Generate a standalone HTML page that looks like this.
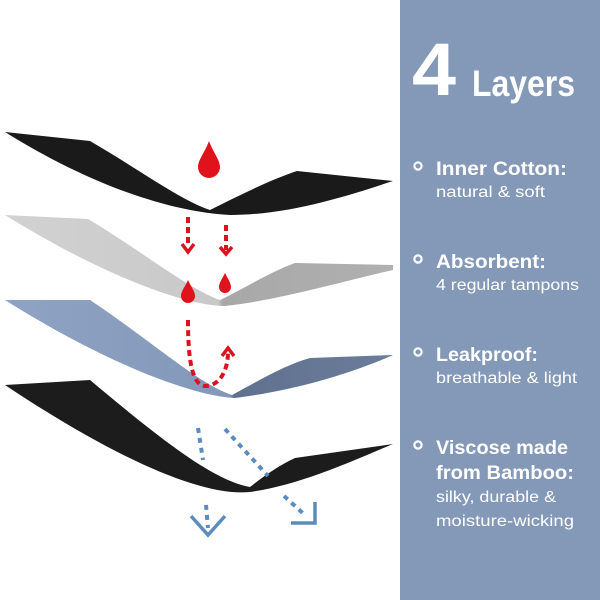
<!DOCTYPE html>
<html><head><meta charset="utf-8"><style>
html,body{margin:0;padding:0;background:#fff;}
svg{display:block}
text{font-family:"Liberation Sans",sans-serif;fill:#fff}
</style></head><body>
<svg width="600" height="600" viewBox="0 0 600 600" xmlns="http://www.w3.org/2000/svg">
<rect x="0" y="0" width="600" height="600" fill="#fff"/>
<rect x="400" y="0" width="200" height="600" fill="#8399b7"/>
<defs>
<linearGradient id="g2" x1="0" x2="1"><stop offset="0" stop-color="#d2d2d2"/><stop offset="0.55" stop-color="#c8c8c8"/><stop offset="0.56" stop-color="#a8a8a8"/><stop offset="1" stop-color="#b0b0b0"/></linearGradient>
<linearGradient id="g3" x1="0" x2="1"><stop offset="0" stop-color="#8fa3c4"/><stop offset="0.58" stop-color="#8397b9"/><stop offset="0.59" stop-color="#5f718f"/><stop offset="1" stop-color="#6b7d9b"/></linearGradient>
</defs>
<path d="M5,132 L90,141 C140,170 180,200 210,210 C240,195 270,180 297,171 L393,181 C350,195 290,215 230,215 C170,212 90,185 5,132 Z" fill="#1a1a1a"/>
<path d="M5,215 L88,219 C140,250 190,290 220,300 C245,288 270,272 295,263 L393,265 L393,270 C340,282 280,300 225,306 C190,306 110,280 5,215 Z" fill="url(#g2)"/>
<path d="M5,300 L90,300 C150,340 200,385 232,395 C260,380 285,365 310,358 L393,355 C360,370 300,390 235,398 C190,396 100,360 5,300 Z" fill="url(#g3)"/>
<path d="M5,385 L90,380 C150,430 210,480 250,487 C265,475 280,465 295,458 L393,444 C350,462 300,485 250,492 C200,497 110,455 5,385 Z" fill="#1c1c1c"/>
<g fill="#e0121c">
<path d="M209,141 C213,152 220,160 220,167 A11,11 0 0 1 198,167 C198,160 205,152 209,141 Z"/>
<path d="M188,280 C191,287 195,291 195,296 A7,7 0 0 1 181,296 C181,291 185,287 188,280 Z"/>
<path d="M225,273 C228,279 231,283 231,287 A6,6 0 0 1 219,287 C219,283 222,279 225,273 Z"/>
</g>
<g stroke="#d9141e" stroke-width="4" fill="none" stroke-dasharray="6,4">
<path d="M188,217 L188,245"/>
<path d="M226,225 L226,250"/>
<path d="M188,320 C188,360 192,385 205,386 C220,386 228,370 228,352"/>
</g>
<g stroke="#d9141e" stroke-width="3.5" fill="none">
<path d="M182,244 L188,252 L194,244"/>
<path d="M220,247 L226,254 L232,247"/>
<path d="M222,356 L228,348 L234,356"/>
</g>
<g stroke="#5b8cc0" stroke-width="4" fill="none" stroke-dasharray="5,5">
<path d="M198,428 L203,460"/>
<path d="M206,505 L208,528"/>
<path d="M225,429 L268,476"/>
<path d="M284,496 L306,516"/>
</g>
<g stroke="#5b8cc0" stroke-width="3.5" fill="none">
<path d="M191,516 L208,535 L225,516"/>
<path d="M291,523 L315,523 L315,502"/>
</g>
<text x="412" y="95" font-size="74" font-weight="bold" textLength="44" lengthAdjust="spacingAndGlyphs">4</text>
<text x="472" y="96" font-size="37" font-weight="bold" textLength="103" lengthAdjust="spacingAndGlyphs">Layers</text>
<g fill="none" stroke="#fff" stroke-width="2.2">
<circle cx="418" cy="166" r="3.6"/><circle cx="418" cy="259" r="3.6"/><circle cx="418" cy="352" r="3.6"/><circle cx="418" cy="445" r="3.6"/>
</g>
<g font-weight="bold" font-size="19">
<text x="436" y="175" textLength="131" lengthAdjust="spacingAndGlyphs">Inner Cotton:</text>
<text x="436" y="268" textLength="110" lengthAdjust="spacingAndGlyphs">Absorbent:</text>
<text x="436" y="361" textLength="102" lengthAdjust="spacingAndGlyphs">Leakproof:</text>
<text x="436" y="454" textLength="132" lengthAdjust="spacingAndGlyphs">Viscose made</text>
<text x="436" y="479" textLength="138" lengthAdjust="spacingAndGlyphs">from Bamboo:</text>
</g>
<g font-size="15.5">
<text x="436" y="197" textLength="109" lengthAdjust="spacingAndGlyphs">natural &amp; soft</text>
<text x="436" y="290" textLength="143" lengthAdjust="spacingAndGlyphs">4 regular tampons</text>
<text x="436" y="383" textLength="141" lengthAdjust="spacingAndGlyphs">breathable &amp; light</text>
<text x="436" y="502" textLength="120" lengthAdjust="spacingAndGlyphs">silky, durable &amp;</text>
<text x="436" y="526" textLength="138" lengthAdjust="spacingAndGlyphs">moisture-wicking</text>
</g>
</svg>
</body></html>
